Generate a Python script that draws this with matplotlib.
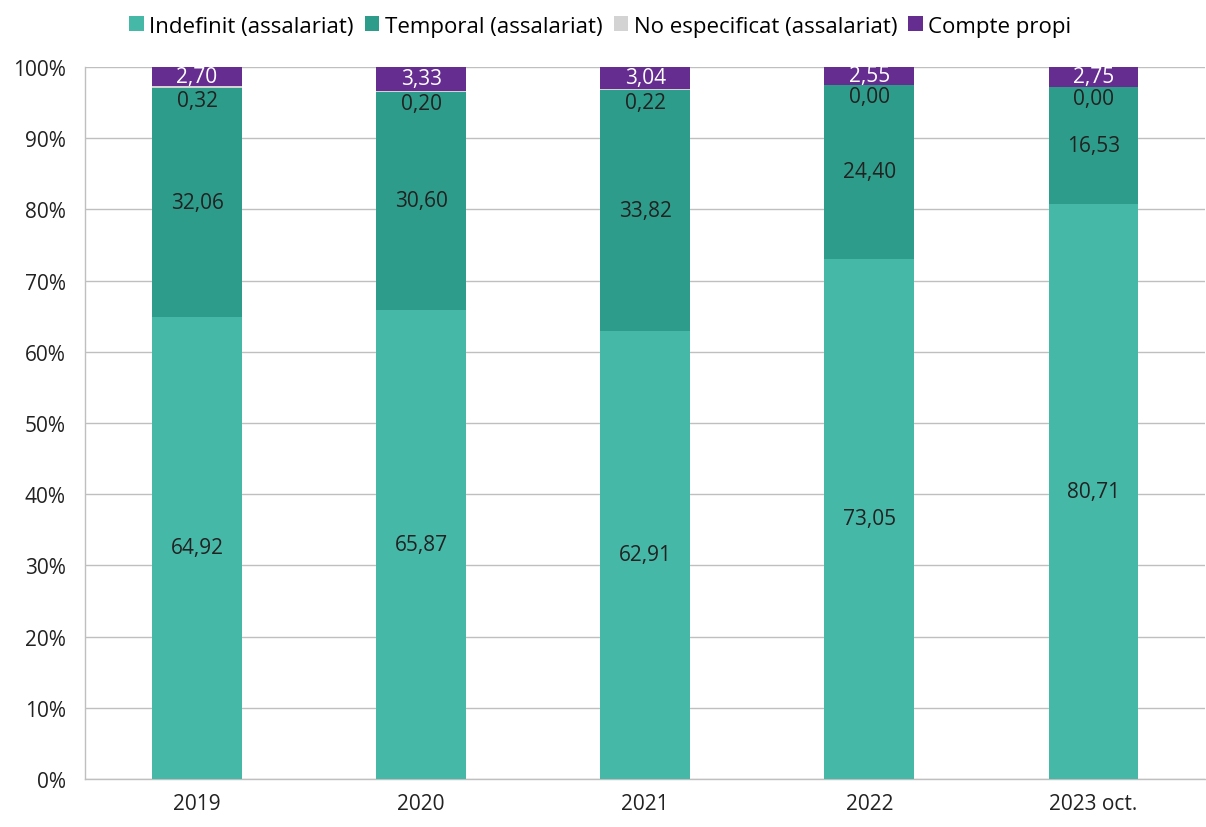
import matplotlib
matplotlib.use("Agg")
import matplotlib.pyplot as plt
import numpy as np

years = ["2019", "2020", "2021", "2022", "2023 oct."]
indefinit = [64.92, 65.87, 62.91, 73.05, 80.71]
temporal = [32.06, 30.60, 33.82, 24.40, 16.53]
no_especificat = [0.32, 0.20, 0.22, 0.00, 0.00]
compte_propi = [2.70, 3.33, 3.04, 2.55, 2.75]

series_names = ["Indefinit (assalariat)", "Temporal (assalariat)",
                "No especificat (assalariat)", "Compte propi"]
colors = ["#46B8A8", "#2E9C8A", "#D3D3D3", "#662D91"]

plt.rcParams["font.family"] = ["Open Sans", "DejaVu Sans"]
FS = 15

fig = plt.figure(figsize=(12.06, 8.28), dpi=100)
ax = fig.add_axes([0.0705, 0.058, 0.929, 0.860])

x = np.arange(len(years))
width = 0.4
data = [indefinit, temporal, no_especificat, compte_propi]
bottom = np.zeros(len(years))
for vals, name, col in zip(data, series_names, colors):
    vals = np.array(vals)
    ax.bar(x, vals, width, bottom=bottom, color=col, label=name, zorder=3)
    bottom += vals

fmt = lambda v: f"{v:.2f}".replace(".", ",")

for i in range(len(years)):
    ax.text(x[i], indefinit[i] / 2, fmt(indefinit[i]), ha="center", va="center",
            fontsize=FS, color="#222222", zorder=4)
    b1 = indefinit[i]
    ax.text(x[i], b1 + temporal[i] / 2, fmt(temporal[i]), ha="center", va="center",
            fontsize=FS, color="#222222", zorder=4)
    b2 = b1 + temporal[i]
    ax.annotate(fmt(no_especificat[i]), (x[i], b2), xytext=(0, -1),
                textcoords="offset points", ha="center", va="top",
                fontsize=FS, color="#222222", zorder=4)
    b3 = b2 + no_especificat[i]
    ax.text(x[i], b3 + compte_propi[i] / 2, fmt(compte_propi[i]), ha="center", va="center",
            fontsize=FS, color="white", zorder=4)

ax.set_xlim(-0.5, len(years) - 0.5)
ax.set_ylim(0, 100)
ax.set_yticks(np.arange(0, 101, 10))
ax.set_yticklabels([f"{t}%" for t in range(0, 101, 10)])
ax.set_xticks(x)
ax.set_xticklabels(years)
ax.tick_params(axis="both", labelsize=FS, length=0, colors="#222222")
ax.tick_params(axis="y", pad=14)
ax.tick_params(axis="x", pad=10)
ax.yaxis.grid(True, color="#BFBFBF", linewidth=1, zorder=0)
ax.set_axisbelow(True)
for s in ["top", "right"]:
    ax.spines[s].set_visible(False)
for s in ["left", "bottom"]:
    ax.spines[s].set_color("#BFBFBF")
    ax.spines[s].set_linewidth(1)

ax.legend(loc="upper center", bbox_to_anchor=(0.46, 1.1), ncol=4, frameon=False,
          fontsize=16, handlelength=0.65, handleheight=0.65, handletextpad=0.25,
          columnspacing=0.5)

fig.savefig("out.png", dpi=100)
